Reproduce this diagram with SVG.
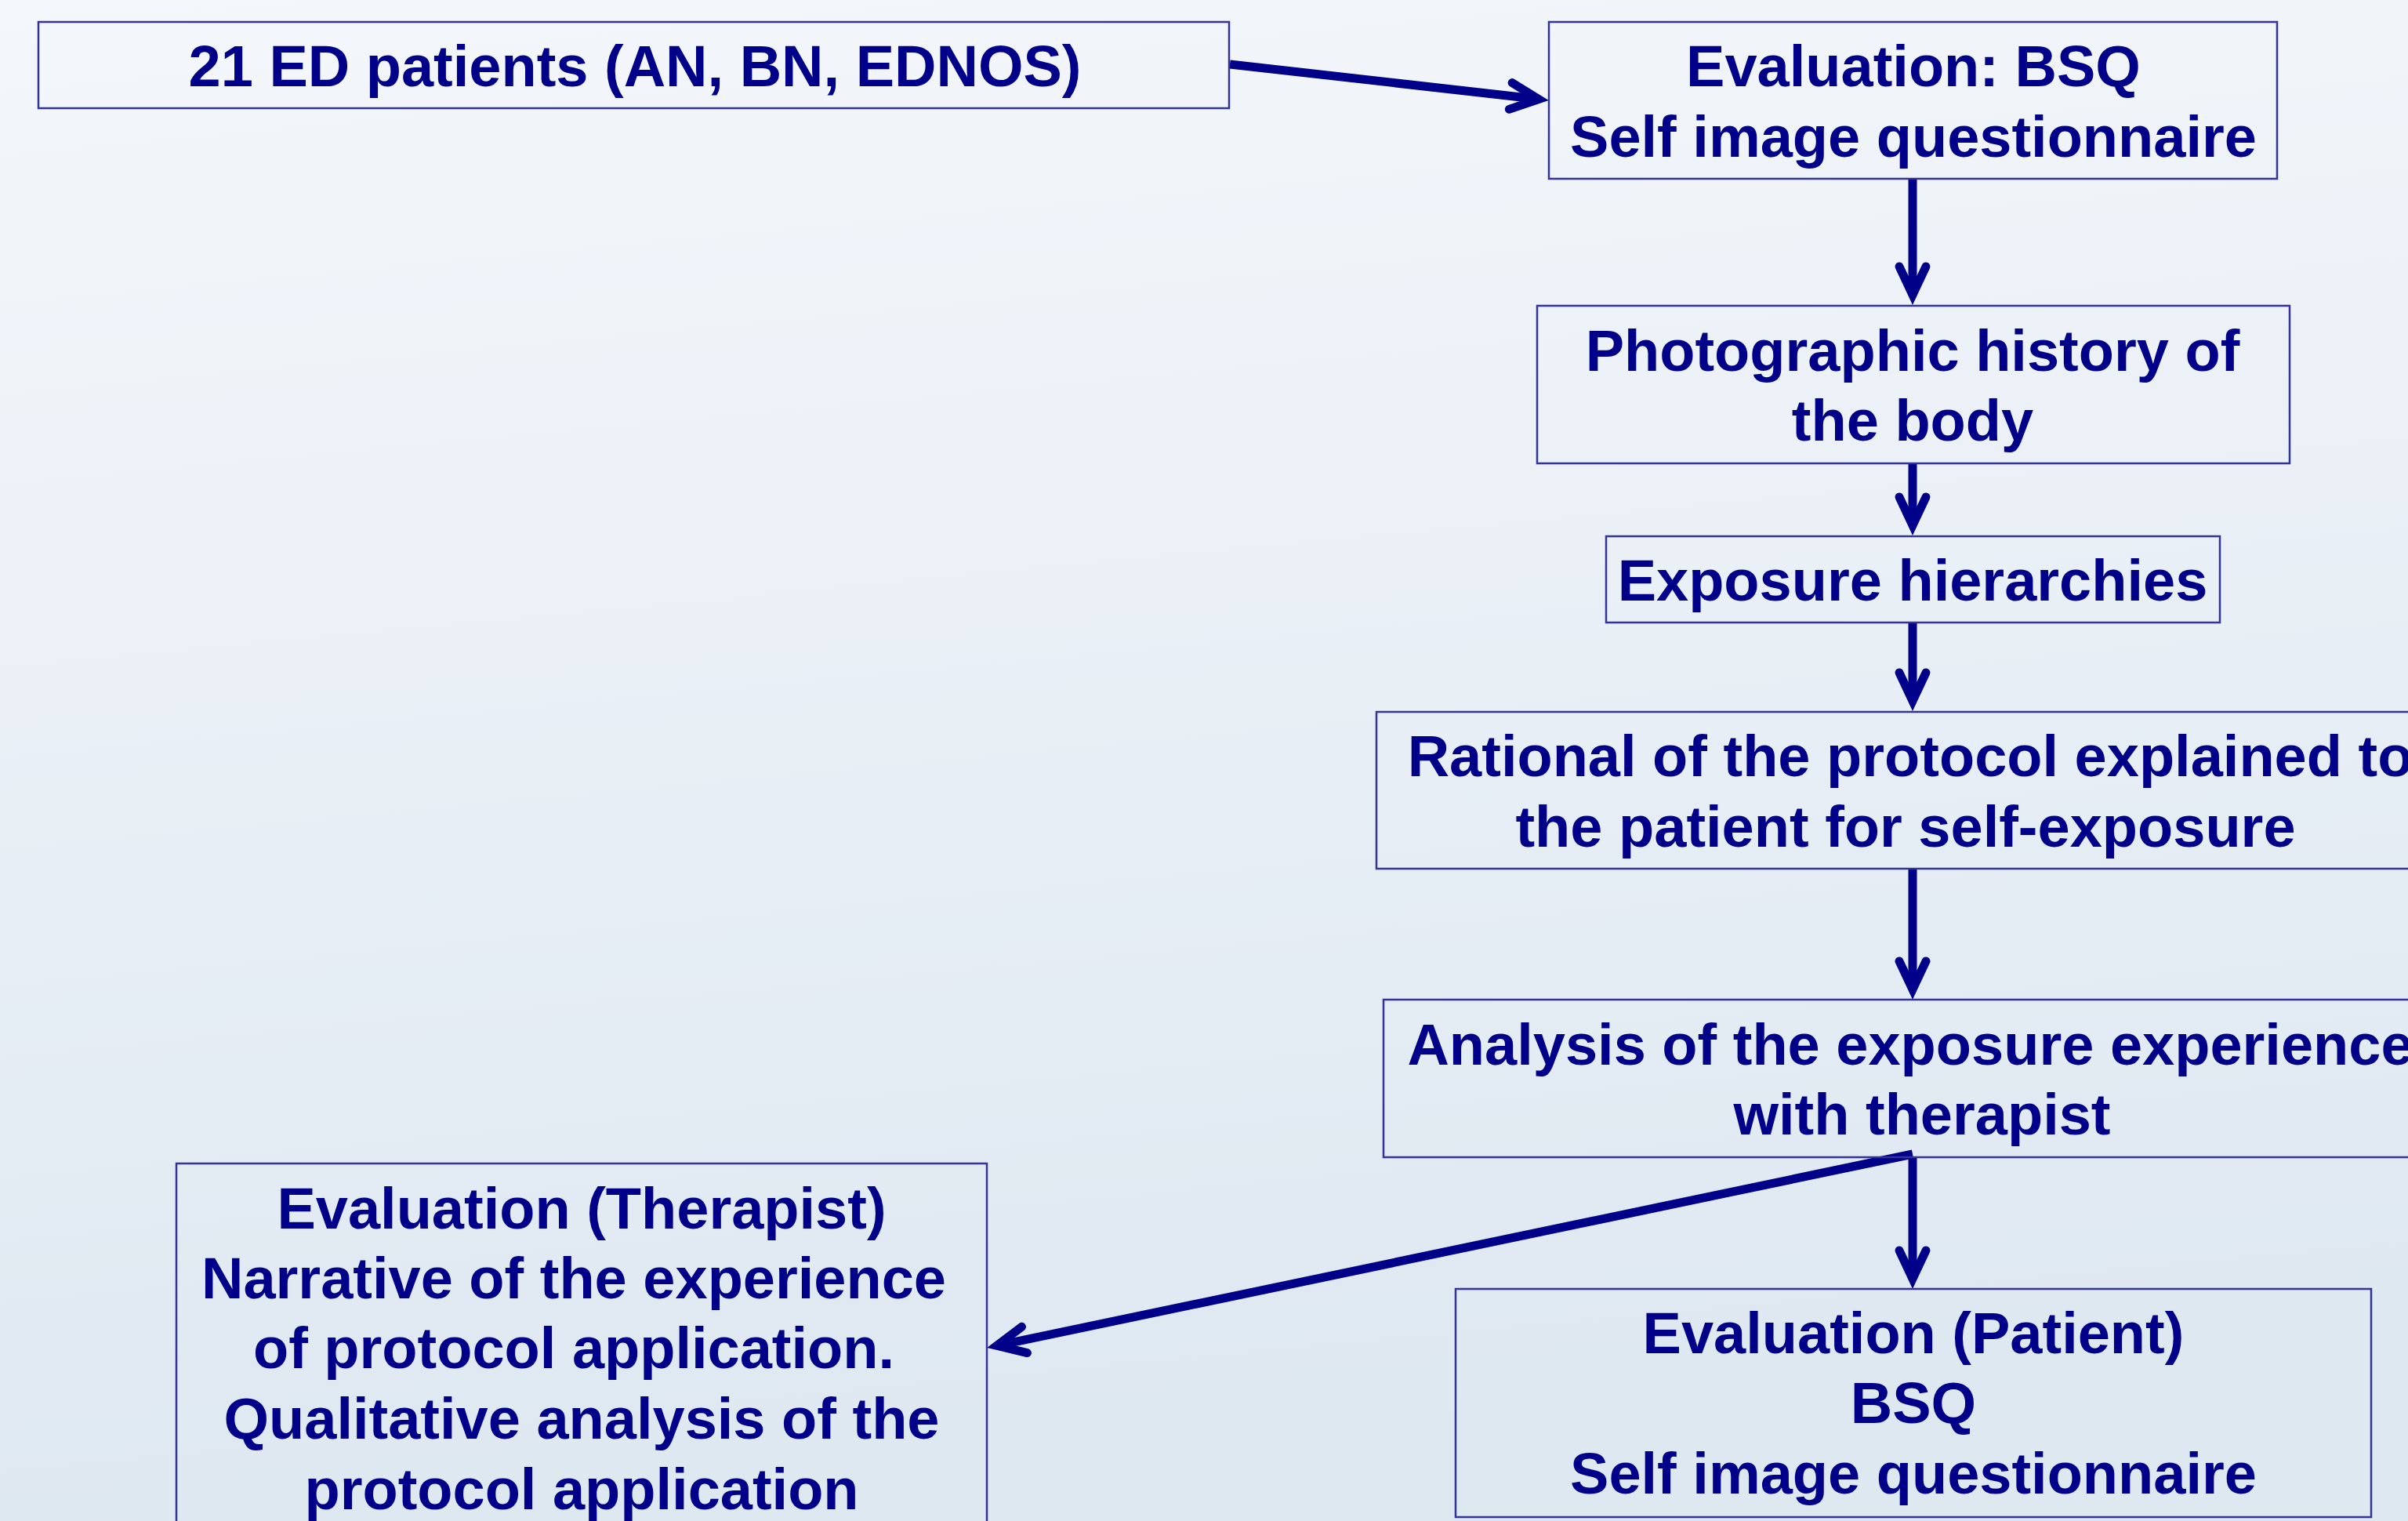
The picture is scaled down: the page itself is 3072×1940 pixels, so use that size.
<svg xmlns="http://www.w3.org/2000/svg" width="3072" height="1940" viewBox="0 0 3072 1940">
<defs>
<linearGradient id="bg" x1="0" y1="0" x2="0.15" y2="1">
<stop offset="0" stop-color="#F4F7FB"/>
<stop offset="1" stop-color="#DEE8F1"/>
</linearGradient>
<marker id="arr" markerUnits="userSpaceOnUse" orient="auto" overflow="visible" refX="0" refY="0" markerWidth="60" markerHeight="60">
<path d="M -36 -17 L 0 0 L -36 17" fill="none" stroke="#000088" stroke-width="11" stroke-linecap="round" stroke-linejoin="miter" stroke-miterlimit="6"/>
</marker>
<style>
.box{fill:none;stroke:#333399;stroke-width:2.5}
.t{font-family:"Liberation Sans",Arial,sans-serif;font-weight:bold;font-size:74px;fill:#000088;text-anchor:middle}
.c{fill:none;stroke:#000088;stroke-width:11;marker-end:url(#arr)}
</style>
</defs>
<rect x="0" y="0" width="3072" height="1940" fill="url(#bg)"/>

<g id="connectors">
<path class="c" d="M 1569 82 L 1963 126.5"/>
<path class="c" d="M 2440 228 L 2440 376"/>
<path class="c" d="M 2440 591 L 2440 670"/>
<path class="c" d="M 2440 794 L 2440 894"/>
<path class="c" d="M 2440 1108 L 2440 1262"/>
<path class="c" d="M 2440 1476 L 2440 1631"/>
<path class="c" d="M 2440 1472 L 1271.7 1716.3"/>
</g>

<g id="n1">
<rect class="box" x="49" y="28" width="1519" height="110"/>
<text class="t" x="810" y="110">21 ED patients (AN, BN, EDNOS)</text>
</g>
<g id="n2">
<rect class="box" x="1976" y="28" width="929" height="200"/>
<text class="t" x="2441" y="110">Evaluation: BSQ</text>
<text class="t" x="2441" y="200">Self image questionnaire</text>
</g>
<g id="n3">
<rect class="box" x="1961" y="390" width="960" height="201"/>
<text class="t" x="2440" y="473">Photographic history of</text>
<text class="t" x="2440" y="562">the body</text>
</g>
<g id="n4">
<rect class="box" x="2049" y="684" width="783" height="110"/>
<text class="t" x="2440" y="766">Exposure hierarchies</text>
</g>
<g id="n5">
<rect class="box" x="1756" y="908" width="1370" height="200"/>
<text class="t" x="2437" y="990">Rational of the protocol explained to</text>
<text class="t" x="2431" y="1080">the patient for self-exposure</text>
</g>
<g id="n6">
<rect class="box" x="1765" y="1275" width="1360" height="201"/>
<text class="t" x="2437" y="1358">Analysis of the exposure experience</text>
<text class="t" x="2452" y="1447">with therapist</text>
</g>
<g id="n7">
<rect class="box" x="1857" y="1644" width="1168" height="291"/>
<text class="t" x="2441" y="1726">Evaluation (Patient)</text>
<text class="t" x="2441" y="1815">BSQ</text>
<text class="t" x="2441" y="1905">Self image questionnaire</text>
</g>
<g id="n8">
<rect class="box" x="225" y="1484" width="1034" height="500"/>
<text class="t" x="742" y="1567">Evaluation (Therapist)</text>
<text class="t" x="732" y="1656">Narrative of the experience</text>
<text class="t" x="732" y="1745">of protocol application.</text>
<text class="t" x="742" y="1835">Qualitative analysis of the</text>
<text class="t" x="742" y="1925">protocol application</text>
</g>
</svg>
